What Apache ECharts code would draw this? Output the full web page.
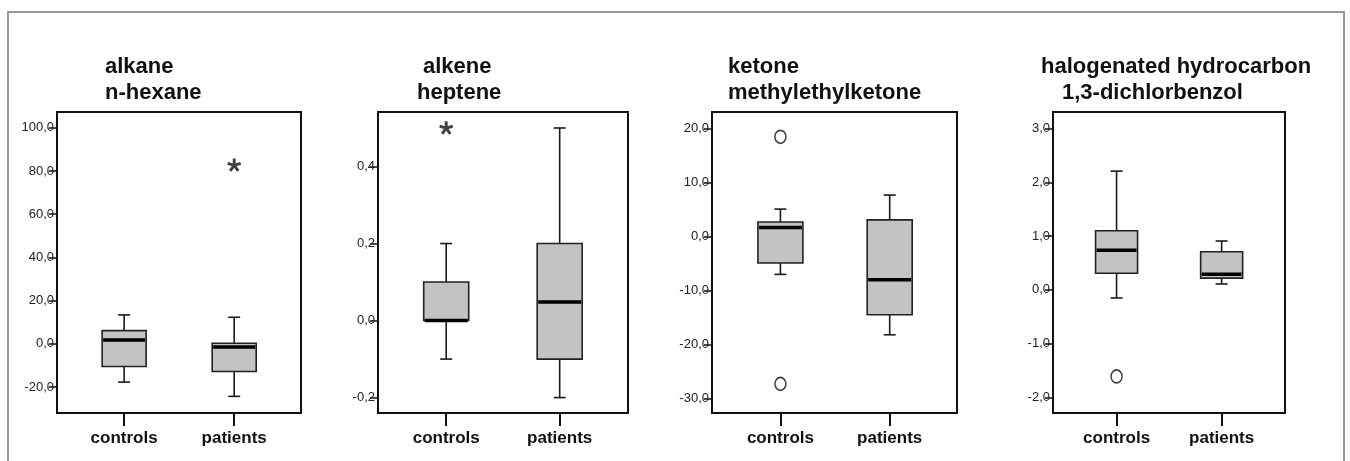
<!DOCTYPE html>
<html>
<head>
<meta charset="utf-8">
<script src="https://cdn.jsdelivr.net/npm/echarts@6/dist/echarts.min.js"></script>
<style>
html,body{margin:0;padding:0;background:#fff;}
#chart{width:1350px;height:461px;}
</style>
</head>
<body>
<div id="chart"></div>
<script>
// ---------- data ----------
const categories = ['controls', 'patients'];

// [lower whisker, Q1, median, Q3, upper whisker]
const hexaneControls = [-17.7, -10.5, 1.8, 6.1, 13.4];
const hexanePatients = [-24.3, -12.8, -1.5, 0.3, 12.3];
const hexaneExtremes = [[2, 82.7]];
const hexaneOutliers = [];
const hexaneTicks = [-20, 0, 20, 40, 60, 80, 100];
const hexaneTickLabels = ['-20,0', '0,0', '20,0', '40,0', '60,0', '80,0', '100,0'];

const hepteneControls = [-0.1, 0.0, 0.0, 0.1, 0.2];
const heptenePatients = [-0.2, -0.1, 0.048, 0.2, 0.5];
const hepteneExtremes = [[1, 0.5]];
const hepteneOutliers = [];
const hepteneTicks = [-0.2, 0, 0.2, 0.4];
const hepteneTickLabels = ['-0,2', '0,0', '0,2', '0,4'];

const mekControls = [-7.0, -4.9, 1.7, 2.7, 5.1];
const mekPatients = [-18.2, -14.5, -8.0, 3.1, 7.7];
const mekExtremes = [];
const mekOutliers = [[1, 18.5], [1, -27.3]];
const mekTicks = [-30, -20, -10, 0, 10, 20];
const mekTickLabels = ['-30,0', '-20,0', '-10,0', '0,0', '10,0', '20,0'];

const dcbControls = [-0.15, 0.31, 0.74, 1.1, 2.21];
const dcbPatients = [0.11, 0.22, 0.29, 0.71, 0.91];
const dcbExtremes = [];
const dcbOutliers = [[1, -1.61]];
const dcbTicks = [-2, -1, 0, 1, 2, 3];
const dcbTickLabels = ['-2,0', '-1,0', '0,0', '1,0', '2,0', '3,0'];

const titleLines = [
  ['alkane', 'n-hexane'],
  ['alkene', 'heptene'],
  ['ketone', 'methylethylketone'],
  ['halogenated hydrocarbon', '1,3-dichlorbenzol']
];

// ---------- layout ----------
const panels = [
  { grid: {left: 57, top: 112, width: 244, height: 301}, x: [0.390, 2.607], y: [-32, 107.3],
    box: [hexaneControls, hexanePatients], ext: hexaneExtremes, out: hexaneOutliers,
    ticks: hexaneTicks, labels: hexaneTickLabels, bw: 44, titleX: [105, 105] },
  { grid: {left: 378, top: 112, width: 250, height: 301}, x: [0.399, 2.602], y: [-0.24, 0.5415],
    box: [hepteneControls, heptenePatients], ext: hepteneExtremes, out: hepteneOutliers,
    ticks: hepteneTicks, labels: hepteneTickLabels, bw: 45, titleX: [423, 417] },
  { grid: {left: 712, top: 112, width: 245, height: 301}, x: [0.374, 2.616], y: [-32.7, 23.1],
    box: [mekControls, mekPatients], ext: mekExtremes, out: mekOutliers,
    ticks: mekTicks, labels: mekTickLabels, bw: 45, titleX: [728, 728] },
  { grid: {left: 1053, top: 112, width: 232, height: 301}, x: [0.395, 2.603], y: [-2.29, 3.31],
    box: [dcbControls, dcbPatients], ext: dcbExtremes, out: dcbOutliers,
    ticks: dcbTicks, labels: dcbTickLabels, bw: 42, titleX: [1041, 1062] }
];

// asterisk symbol path (5 arms)
function asteriskPath() {
  const L = 10, hw = 2.1;
  let s = '';
  for (let i = 0; i < 5; i++) {
    const t = i * 72 * Math.PI / 180;
    const d = [Math.sin(t), -Math.cos(t)];
    const p = [Math.cos(t), Math.sin(t)];
    const pts = [
      [-p[0] * hw - d[0] * 0.5, -p[1] * hw - d[1] * 0.5],
      [d[0] * L - p[0] * hw, d[1] * L - p[1] * hw],
      [d[0] * L + p[0] * hw, d[1] * L + p[1] * hw],
      [p[0] * hw - d[0] * 0.5, p[1] * hw - d[1] * 0.5]
    ];
    s += 'M' + pts.map(q => (q[0] + 10).toFixed(3) + ' ' + (q[1] + 10).toFixed(3)).join(' L') + ' Z ';
  }
  return 'path://' + s;
}
const STAR = asteriskPath();

const FONT = '"Liberation Sans", Arial, sans-serif';
const grids = [], xAxes = [], yAxes = [], series = [], titles = [];

panels.forEach((pn, i) => {
  grids.push(Object.assign({ show: true, borderColor: '#111', borderWidth: 2, backgroundColor: 'transparent' }, pn.grid));
  xAxes.push({
    type: 'value', gridIndex: i, min: pn.x[0], max: pn.x[1],
    axisLine: { show: true, onZero: false, lineStyle: { color: '#111', width: 2 } },
    axisTick: { show: true, customValues: [1, 2], length: 13, lineStyle: { color: '#111', width: 2 } },
    axisLabel: { show: true, customValues: [1, 2], margin: 17, color: '#111', fontSize: 17, fontWeight: 'bold', fontFamily: FONT,
      formatter: v => categories[Math.round(v) - 1] || '' },
    splitLine: { show: false }
  });
  const ticks = pn.ticks, labels = pn.labels;
  yAxes.push({
    type: 'value', gridIndex: i, min: pn.y[0], max: pn.y[1],
    axisLine: { show: true, onZero: false, lineStyle: { color: '#111', width: 2 } },
    axisTick: { show: true, customValues: ticks, length: 8, lineStyle: { color: '#111', width: 1.5 } },
    axisLabel: { show: true, customValues: ticks, margin: 3, color: '#222', fontSize: 13, fontFamily: FONT,
      formatter: v => { const k = ticks.findIndex(t => Math.abs(t - v) < 1e-9); return k >= 0 ? labels[k] : ''; } },
    splitLine: { show: false }
  });
  const bw = pn.bw, cap = 12;
  series.push({
    type: 'custom', xAxisIndex: i, yAxisIndex: i,
    encode: { x: 0, y: [1, 2, 3, 4, 5] },
    data: pn.box.map((b, k) => [k + 1].concat(b)),
    renderItem: function (params, api) {
      const x = api.value(0);
      const c = v => api.coord([x, v]);
      const pLo = c(api.value(1)), pQ1 = c(api.value(2)), pMed = c(api.value(3)), pQ3 = c(api.value(4)), pHi = c(api.value(5));
      const cx = pLo[0];
      const ls = { stroke: '#1a1a1a', lineWidth: 1.6 };
      return { type: 'group', children: [
        { type: 'line', shape: { x1: cx, y1: pHi[1], x2: cx, y2: pQ3[1] }, style: ls },
        { type: 'line', shape: { x1: cx, y1: pQ1[1], x2: cx, y2: pLo[1] }, style: ls },
        { type: 'line', shape: { x1: cx - cap / 2, y1: pHi[1], x2: cx + cap / 2, y2: pHi[1] }, style: ls },
        { type: 'line', shape: { x1: cx - cap / 2, y1: pLo[1], x2: cx + cap / 2, y2: pLo[1] }, style: ls },
        { type: 'rect', shape: { x: cx - bw / 2, y: pQ3[1], width: bw, height: pQ1[1] - pQ3[1] },
          style: { fill: '#c3c3c3', stroke: '#222', lineWidth: 1.6 } },
        { type: 'line', shape: { x1: cx - bw / 2 + 1, y1: pMed[1], x2: cx + bw / 2 - 1, y2: pMed[1] },
          style: { stroke: '#000', lineWidth: 3.5 } }
      ] };
    },
    silent: true, z: 3
  });
  if (pn.out.length) series.push({
    type: 'scatter', xAxisIndex: i, yAxisIndex: i, data: pn.out,
    symbol: 'circle', symbolSize: [11, 13],
    itemStyle: { color: '#fff', borderColor: '#111', borderWidth: 1.6 }, silent: true, z: 4
  });
  if (pn.ext.length) series.push({
    type: 'scatter', xAxisIndex: i, yAxisIndex: i, data: pn.ext,
    symbol: STAR, symbolSize: 14, symbolKeepAspect: true,
    itemStyle: { color: '#111' }, silent: true, z: 4
  });
  titleLines[i].forEach((t, j) => {
    titles.push({ text: t, left: pn.titleX[j], top: j === 0 ? 56 : 82, padding: 0,
      textStyle: { fontSize: 22, fontWeight: 'bold', color: '#111', fontFamily: FONT, lineHeight: 22 } });
  });
});

const chart = echarts.init(document.getElementById('chart'), null, { renderer: 'canvas' });
chart.setOption({
  animation: false,
  backgroundColor: '#fff',
  title: titles,
  grid: grids,
  xAxis: xAxes,
  yAxis: yAxes,
  series: series,
  graphic: [{
    type: 'polyline', silent: true,
    shape: { points: [[8, 461], [8, 12], [1344, 12], [1344, 461]] },
    style: { stroke: '#777', lineWidth: 1.5, fill: null }
  }]
});
</script>
</body>
</html>
